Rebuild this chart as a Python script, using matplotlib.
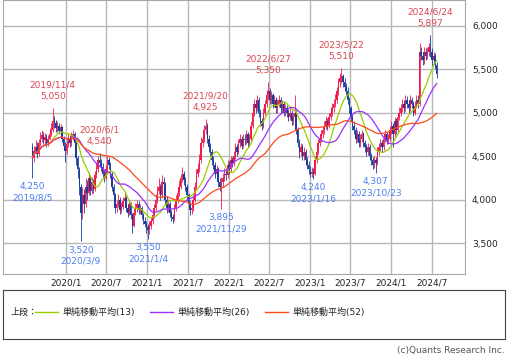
import pandas as pd
import matplotlib
matplotlib.use("Agg")
import matplotlib.pyplot as plt
import matplotlib.dates as mdates

# weekly prices, first week 2019/8/5
first_open = 4600
closes = [
    4480, 4560, 4600, 4520, 4650, 4700, 4740, 4680, 4720, 4650,
    4700, 4760, 4800, 4900, 4880, 4820, 4850, 4790, 4830, 4700,
    4620, 4560, 4640, 4700, 4650, 4720, 4760, 4650, 4480, 4350,
    4150, 3850, 4050, 3950, 4150, 4080, 4250, 4100, 4200, 4120,
    4280, 4350, 4450, 4420, 4380, 4300, 4250, 4350, 4450, 4400,
    4300, 4150, 4050, 3900, 3950, 4000, 3880, 3920, 3980, 4020,
    3900, 3850, 3950, 3820, 3700, 3850, 3900, 3950, 3880, 3900,
    3820, 3760, 3720, 3680, 3650, 3700, 3750, 3820, 3900, 4000,
    4100, 4150, 4050, 4200, 4180, 4000, 3900, 3950, 3850, 3800,
    3780, 3900, 4000, 4080, 4150, 4250, 4300, 4220, 4150, 4050,
    3950, 3880, 3900, 4000, 4150, 4300, 4350, 4450, 4650, 4700,
    4800, 4850, 4700, 4600, 4550, 4450, 4400, 4300, 4350, 4200,
    4150, 4200, 4250, 4300, 4280, 4400, 4350, 4450, 4420, 4500,
    4600, 4550, 4650, 4700, 4620, 4700, 4680, 4750, 4650, 4700,
    4850, 5000, 5100, 5050, 5150, 5000, 4900, 4850, 5000, 5100,
    5200, 5250, 5150, 5200, 5100, 5150, 5050, 5100, 5150, 5050,
    5100, 5000, 5050, 5000, 4950, 5000, 4900, 4950, 5000, 4800,
    4650, 4550, 4600, 4500, 4550, 4450, 4400, 4350, 4300, 4320,
    4300, 4450, 4550, 4650, 4700, 4750, 4800, 4850, 4900, 4850,
    4950, 5000, 5050, 5100, 5150, 5250, 5350, 5400, 5420, 5350,
    5300, 5250, 5150, 5050, 4950, 4850, 4800, 4700, 4750, 4650,
    4700, 4750, 4650, 4600, 4550, 4600, 4500, 4450, 4400, 4450,
    4420, 4550, 4600, 4650, 4600, 4700, 4750, 4680, 4700, 4800,
    4850, 4750, 4900, 4800, 4950, 5000, 5050, 5100, 5050, 5150,
    5100, 5050, 5150, 5100, 5000, 5080, 5150, 5100, 5700, 5650,
    5600, 5700, 5650, 5700, 5750, 5700, 5600, 5650, 5550, 5450,
]
highs = [
    4650, 4620, 4680, 4660, 4700, 4780, 4800, 4780, 4770, 4760,
    4740, 4820, 4880, 5050, 4960, 4920, 4900, 4880, 4870, 4850,
    4730, 4660, 4700, 4760, 4740, 4780, 4800, 4780, 4670, 4500,
    4380, 4180, 4150, 4120, 4250, 4220, 4320, 4280, 4260, 4240,
    4330, 4420, 4500, 4540, 4470, 4420, 4340, 4400, 4500, 4490,
    4430, 4320, 4180, 4080, 4000, 4060, 4030, 3970, 4030, 4080,
    4040, 3940, 4000, 3970, 3850, 3900, 3960, 4000, 3980, 3950,
    3930, 3850, 3800, 3750, 3720, 3760, 3800, 3870, 3950, 4060,
    4160, 4250, 4180, 4280, 4260, 4200, 4040, 4010, 3980, 3880,
    3840, 3950, 4050, 4130, 4220, 4300, 4370, 4330, 4260, 4180,
    4080, 3980, 3950, 4050, 4200, 4350, 4420, 4520, 4720, 4780,
    4860, 4925, 4880, 4740, 4650, 4580, 4500, 4430, 4400, 4380,
    4250, 4260, 4310, 4360, 4350, 4450, 4440, 4500, 4490, 4560,
    4650, 4640, 4700, 4760, 4730, 4750, 4750, 4800, 4780, 4760,
    4900, 5060, 5160, 5150, 5200, 5180, 5040, 4940, 5050, 5150,
    5260, 5350, 5280, 5250, 5230, 5200, 5180, 5160, 5200, 5180,
    5150, 5130, 5100, 5090, 5040, 5050, 5030, 5000, 5200, 5030,
    4830, 4700, 4650, 4640, 4600, 4580, 4490, 4440, 4390, 4370,
    4360, 4500, 4600, 4700, 4760, 4800, 4850, 4900, 4960, 4940,
    5000, 5060, 5110, 5160, 5210, 5300, 5400, 5460, 5510, 5450,
    5400, 5340, 5290, 5180, 5080, 4990, 4900, 4840, 4800, 4790,
    4750, 4800, 4780, 4690, 4640, 4650, 4640, 4540, 4490, 4500,
    4490, 4600, 4650, 4700, 4690, 4750, 4800, 4790, 4750, 4850,
    4900, 4880, 4950, 4940, 5000, 5060, 5100, 5160, 5150, 5200,
    5190, 5140, 5200, 5180, 5130, 5130, 5200, 5200, 5800, 5760,
    5700, 5760, 5740, 5760, 5800, 5897, 5740, 5700, 5680, 5580,
]
lows = [
    4250, 4430, 4520, 4480, 4500, 4620, 4660, 4640, 4640, 4600,
    4620, 4680, 4730, 4780, 4820, 4780, 4780, 4750, 4740, 4660,
    4580, 4430, 4530, 4600, 4610, 4620, 4680, 4600, 4400, 4250,
    4050, 3520, 3780, 3850, 3920, 4000, 4050, 4050, 4060, 4080,
    4100, 4250, 4320, 4380, 4330, 4250, 4200, 4220, 4320, 4350,
    4250, 4100, 4000, 3850, 3860, 3920, 3840, 3850, 3890, 3950,
    3860, 3800, 3820, 3780, 3620, 3680, 3820, 3860, 3840, 3840,
    3780, 3720, 3680, 3620, 3550, 3610, 3660, 3720, 3790, 3870,
    3960, 4060, 4000, 4020, 4120, 3950, 3850, 3860, 3800, 3750,
    3730, 3760, 3870, 3960, 4040, 4120, 4200, 4170, 4100, 4000,
    3900, 3820, 3840, 3870, 3970, 4120, 4260, 4320, 4420, 4600,
    4660, 4750, 4650, 4550, 4500, 4400, 4350, 4250, 4260, 4150,
    4100, 3895, 4150, 4210, 4230, 4250, 4300, 4320, 4370, 4390,
    4470, 4500, 4520, 4610, 4580, 4590, 4630, 4640, 4600, 4610,
    4670, 4820, 4960, 5000, 5020, 4950, 4850, 4800, 4820, 4970,
    5060, 5150, 5100, 5100, 5050, 5060, 5000, 5000, 5060, 5000,
    5000, 4960, 4960, 4950, 4900, 4910, 4860, 4860, 4920, 4750,
    4600, 4480, 4500, 4450, 4460, 4400, 4350, 4300, 4260, 4260,
    4240, 4280, 4420, 4520, 4620, 4660, 4710, 4760, 4810, 4800,
    4820, 4910, 4960, 5010, 5060, 5110, 5200, 5300, 5340, 5300,
    5250, 5200, 5100, 5000, 4900, 4800, 4750, 4650, 4660, 4600,
    4610, 4660, 4600, 4550, 4500, 4510, 4460, 4400, 4350, 4360,
    4307, 4400, 4510, 4560, 4550, 4570, 4660, 4640, 4640, 4670,
    4760, 4600, 4720, 4760, 4770, 4910, 4960, 5010, 5000, 5020,
    5050, 5000, 5020, 5050, 4960, 4970, 5050, 5050, 5080, 5600,
    5550, 5560, 5600, 5620, 5650, 5640, 5550, 5560, 5500, 5400,
]

high_marks = [("2019/11/4", 5050), ("2020/6/1", 4540), ("2021/9/20", 4925),
              ("2022/6/27", 5350), ("2023/5/22", 5510), ("2024/6/24", 5897)]
low_marks = [("2019/8/5", 4250), ("2020/3/9", 3520), ("2021/1/4", 3550),
             ("2021/11/29", 3895), ("2023/1/16", 4240), ("2023/10/23", 4307)]

ma_windows = [13, 26, 52]
ma_labels = ["単純移動平均(13)", "単純移動平均(26)", "単純移動平均(52)"]
ma_colors = ["#9acd00", "#9b30ff", "#ff4a1a"]

y_ticks = [3500, 4000, 4500, 5000, 5500, 6000]
x_ticks = ["2020-01-01", "2020-07-01", "2021-01-01", "2021-07-01", "2022-01-01",
           "2022-07-01", "2023-01-01", "2023-07-01", "2024-01-01", "2024-07-01"]

UP = "#f2194d"
DOWN = "#1a3c9c"
HI_TXT = "#d9474f"
LO_TXT = "#4a7ff0"

plt.rcParams['font.family'] = ['DejaVu Sans', 'Noto Sans CJK JP']

dates = pd.date_range("2019-08-05", periods=len(closes), freq="W-MON")
df = pd.DataFrame({"open": [first_open] + closes[:-1], "high": highs,
                   "low": lows, "close": closes}, index=dates)
x = mdates.date2num(dates)

fig = plt.figure(figsize=(5.09, 3.55), dpi=100)
ax = fig.add_axes([3 / 509, 81 / 355, 462 / 509, 274 / 355])

up = (df["close"] >= df["open"]).values
for mask, col in [(up, UP), (~up, DOWN)]:
    sub = df[mask]
    xs = x[mask]
    ax.vlines(xs, sub["low"], sub["high"], color=col, lw=0.6, zorder=2)
    body_lo = sub[["open", "close"]].min(axis=1)
    body_h = (sub["close"] - sub["open"]).abs().clip(lower=8)
    ax.bar(xs, body_h, bottom=body_lo, width=6.5, color=col, linewidth=0, zorder=2)

for w, col in zip(ma_windows, ma_colors):
    ma = df["close"].rolling(w, min_periods=1).mean()
    ax.plot(x, ma, color=col, lw=0.9, zorder=3)

for d, v in high_marks:
    ax.annotate(f"{d}\n{v:,}", xy=(pd.Timestamp(d.replace("/", "-")), v),
                xytext=(0, 5), textcoords="offset points", ha="center", va="bottom",
                fontsize=6.5, color=HI_TXT, linespacing=1.35)
for d, v in low_marks:
    ax.annotate(f"{v:,}\n{d}", xy=(pd.Timestamp(d.replace("/", "-")), v),
                xytext=(0, -3), textcoords="offset points", ha="center", va="top",
                fontsize=6.5, color=LO_TXT, linespacing=1.35)

ax.set_xlim(pd.Timestamp("2019-03-26"), pd.Timestamp("2024-11-26"))
ax.set_ylim(3145, 6295)
ax.yaxis.tick_right()
ax.set_yticks(y_ticks)
ax.set_yticklabels([f"{t:,}" for t in y_ticks])
xt = pd.to_datetime(x_ticks)
ax.set_xticks(xt)
ax.set_xticklabels([f"{t.year}/{t.month}" for t in xt])
ax.tick_params(length=0, labelsize=6.5, colors="#222222")
ax.tick_params(axis="y", pad=5)
ax.tick_params(axis="x", pad=3)
ax.grid(True, color="#b8b8b8", lw=1)
ax.set_axisbelow(True)
for s in ax.spines.values():
    s.set_color("#a8a8a8")

# legend box under the chart
lax = fig.add_axes([3 / 509, 16 / 355, 502 / 509, 49 / 355])
lax.set_xlim(0, 1)
lax.set_ylim(0, 1)
lax.set_xticks([])
lax.set_yticks([])
for s in lax.spines.values():
    s.set_color("#444444")
lax.text(0.014, 0.55, "上段：", fontsize=6.5, va="center", color="#222222")
for x0, lab, col in zip([0.064, 0.293, 0.522], ma_labels, ma_colors):
    lax.plot([x0, x0 + 0.045], [0.55, 0.55], color=col, lw=1)
    lax.text(x0 + 0.054, 0.55, lab, fontsize=6.5, va="center", color="#222222")

fig.text(505 / 509, 4 / 355, "(c)Quants Research Inc.", ha="right", va="center",
         fontsize=6.5, color="#555555")

fig.savefig("out.png", dpi=100)
